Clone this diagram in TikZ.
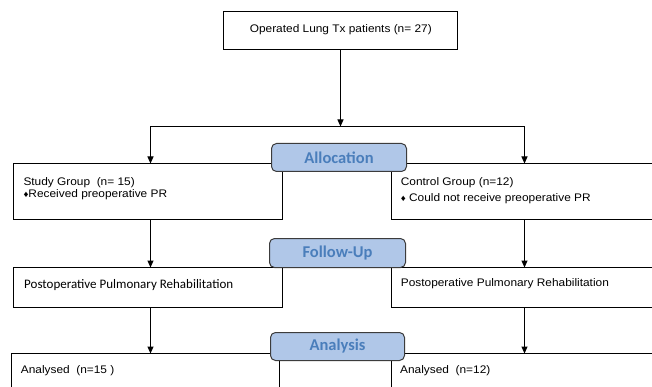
\documentclass[tikz,border=0pt]{standalone}
\usepackage{fontspec}
\setmainfont{Liberation Sans}
\newfontfamily\arialx[FakeStretch=1.08]{Liberation Sans}
\newfontfamily\calib{Carlito}
\usetikzlibrary{arrows.meta}
\definecolor{labfill}{RGB}{176,199,232}
\definecolor{labtext}{RGB}{74,126,187}
\definecolor{labdraw}{RGB}{60,60,60}
\tikzset{
  box/.style={draw=black, line width=1pt, inner sep=0pt, outer sep=0pt, anchor=north west},
  phase/.style={draw=labdraw, fill=labfill, line width=1pt, rounded corners=5pt, text=labtext,
    font=\calib\bfseries\fontsize{16.5}{16.5}\selectfont, inner sep=0pt, outer sep=0pt, anchor=north west},
  txt/.style={inner sep=0pt, anchor=west, font=\arialx\fontsize{11}{13}\selectfont},
  ctxt/.style={inner sep=0pt, anchor=west, font=\calib\fontsize{13}{15}\selectfont},
  arr/.style={draw=black, line width=1pt, -{Triangle[length=7pt,width=6pt]}},
  link/.style={draw=black, line width=1pt},
}
\newcommand{\smdia}{{\fontsize{9}{9}\selectfont ♦}}
\begin{document}
\begin{tikzpicture}[x=1pt,y=-1pt]
\useasboundingbox (0,0) rectangle (652,387);
\fill[white] (0,0) rectangle (652,387);
% boxes
\node[box, minimum width=234pt, minimum height=38pt] (top) at (223.5,11.5) {};
\node[box, minimum width=269pt, minimum height=56pt] (study) at (13.5,163.5) {};
\node[box, minimum width=320pt, minimum height=56pt] (control) at (391.5,163.5) {};
\node[box, minimum width=269pt, minimum height=40pt] (postL) at (13.5,267.5) {};
\node[box, minimum width=320pt, minimum height=40pt] (postR) at (391.5,267.5) {};
\node[box, minimum width=268pt, minimum height=60pt] (anaL) at (11.5,353.5) {};
\node[box, minimum width=320pt, minimum height=60pt] (anaR) at (391.5,353.5) {};
% connectors
\coordinate (jl) at (150.5,126.5);
\coordinate (jr) at (524.5,126.5);
\draw[arr] (top.south) -- (top.south |- jl);
\draw[link] (jl) -- (jr);
\draw[arr] (jl) -- (jl |- study.north);
\draw[arr] (jr) -- (jr |- control.north);
\draw[arr] (study.south -| jl) -- (postL.north -| jl);
\draw[arr] (control.south -| jr) -- (postR.north -| jr);
\draw[arr] (postL.south -| jl) -- (anaL.north -| jl);
\draw[arr] (postR.south -| jr) -- (anaR.north -| jr);
% phase labels
\node[phase, minimum width=135pt, minimum height=28pt] (alloc) at (271.5,143.5) {Allocation};
\node[phase, minimum width=136pt, minimum height=29pt] (follow) at (269.5,238.5) {Follow-Up};
\node[phase, minimum width=134pt, minimum height=28pt] (analysis) at (270.5,332.5) {Analysis};
% texts
\node[txt, anchor=center] (ttop) at (340.8,29.5) {Operated Lung Tx patients (n= 27)};
\node[txt] (ts1) at (23.3,183) {Study Group\ \ (n= 15)};
\node[txt] (ts2) at (23.3,195) {\smdia Received preoperative PR};
\node[txt] (tc1) at (400.7,182.5) {Control Group (n=12)};
\node[txt] (tc2) at (400.7,198.5) {\smdia\ Could not receive preoperative PR};
\node[ctxt] (tpl) at (24,285) {Postoperative Pulmonary Rehabilitation};
\node[txt] (tpr) at (400.7,283.3) {Postoperative Pulmonary Rehabilitation};
\node[txt] (tal) at (20.7,371) {Analysed\ \ (n=15 )};
\node[txt] (tar) at (400,371) {Analysed\ \ (n=12)};
\end{tikzpicture}
\end{document}
